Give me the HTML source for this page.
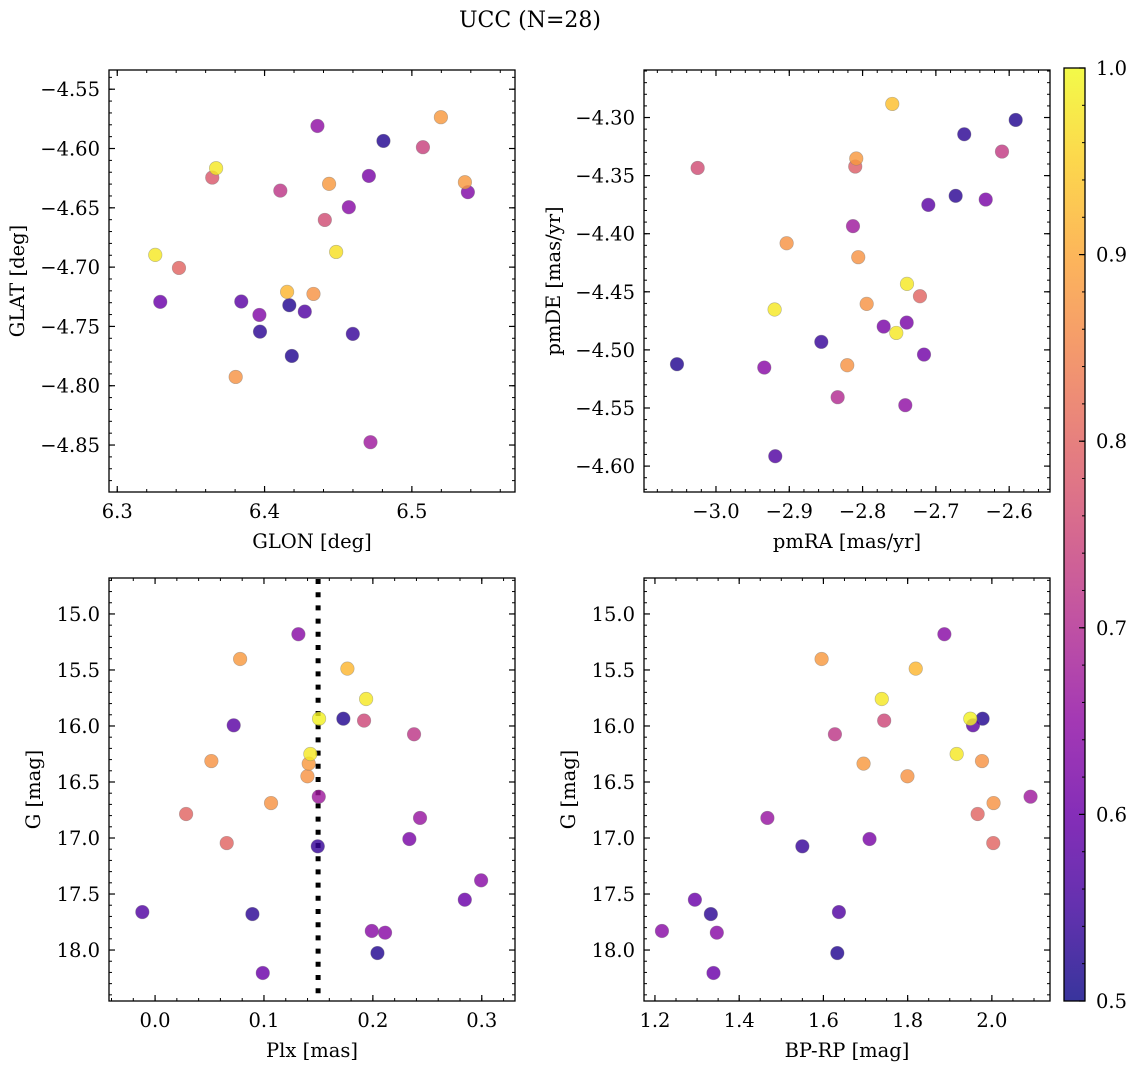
<!DOCTYPE html>
<html><head><meta charset="utf-8">
<style>
html,body{margin:0;padding:0;background:#fff;}
svg{display:block;font-family:"DejaVu Serif","Liberation Serif",serif;}
</style></head>
<body>
<svg id="fig" width="1136" height="1068" viewBox="0 0 1136 1068" xmlns="http://www.w3.org/2000/svg">
<rect width="1136" height="1068" fill="#fff"/>
<text x="530" y="27" font-size="22" text-anchor="middle">UCC (N=28)</text>
</svg>
<script>
// ---- data ----
const prob = [0.64,0.88,0.92,0.98,0.99,0.52,0.75,0.58,0.72,0.98,0.88,0.87,0.87,0.67,0.87,0.80,0.66,0.80,0.62,0.54,0.64,0.60,0.57,0.53,0.64,0.64,0.52,0.60];
const plx = [0.1316,0.0781,0.1766,0.1938,0.1506,0.1729,0.1919,0.0722,0.2378,0.1426,0.1411,0.0517,0.1399,0.1503,0.1065,0.0285,0.2433,0.0658,0.2335,0.1494,0.2994,0.2844,-0.0117,0.0894,0.199,0.2112,0.2042,0.0989];
const gmag = [15.181,15.402,15.488,15.759,15.935,15.935,15.952,15.994,16.074,16.25,16.336,16.313,16.449,16.631,16.688,16.786,16.821,17.045,17.009,17.074,17.378,17.551,17.661,17.679,17.83,17.845,18.027,18.205];
const bprp = [1.8872,1.5957,1.8192,1.7386,1.9488,1.978,1.7443,1.9552,1.6273,1.9164,1.6953,1.9765,1.7995,2.0918,2.004,1.9662,1.467,2.0033,1.7095,1.55,null,1.2948,1.6368,1.3327,1.2166,1.3469,1.633,1.339];

const glon = [6.4359,6.4807,6.5197,6.5075,6.3671,6.3645,6.4107,6.4438,6.4708,6.536,6.538,6.4572,6.4409,6.3258,6.4486,6.3419,6.3292,6.3842,6.3965,6.3969,6.4153,6.4332,6.4168,6.4273,6.4599,6.4185,6.3804,6.4719];
const glat = [-4.581,-4.5936,-4.5736,-4.5989,-4.6166,-4.6245,-4.6355,-4.6298,-4.6231,-4.6284,-4.6368,-4.6495,-4.6602,-4.6897,-4.6872,-4.7007,-4.7293,-4.729,-4.7403,-4.7544,-4.7209,-4.7226,-4.7321,-4.7375,-4.7563,-4.7749,-4.7926,-4.8476];
const glProb = [0.65,0.52,0.88,0.74,0.98,0.78,0.72,0.88,0.62,0.88,0.63,0.64,0.76,0.98,0.97,0.80,0.60,0.58,0.63,0.53,0.92,0.87,0.52,0.57,0.54,0.52,0.87,0.67];

const pmra = [-2.7595,-2.5911,-2.6613,-2.6098,-3.025,-2.8086,-2.81,-2.673,-2.632,-2.7103,-2.8131,-2.9036,-2.8059,-2.7394,-2.7217,-2.92,-2.7944,-2.7712,-2.7398,-2.754,-2.8563,-2.7162,-3.0532,-2.9341,-2.8209,-2.834,-2.7417,-2.9191];
const pmde = [-4.2883,-4.3021,-4.3144,-4.3293,-4.3434,-4.3353,-4.3422,-4.3674,-4.3706,-4.3752,-4.3935,-4.4082,-4.4202,-4.4432,-4.4538,-4.4652,-4.4604,-4.4799,-4.4765,-4.4854,-4.4931,-4.504,-4.5123,-4.5152,-4.5132,-4.5407,-4.5476,-4.5915];
const pmProb = [0.93,0.52,0.53,0.73,0.76,0.88,0.79,0.53,0.62,0.58,0.67,0.87,0.87,0.98,0.80,0.98,0.87,0.62,0.62,0.98,0.54,0.61,0.52,0.64,0.87,0.70,0.65,0.57];

const plxLine = 0.1497;
const glonTicks = [6.3,6.4,6.5], glatTicks = [-4.55,-4.60,-4.65,-4.70,-4.75,-4.80,-4.85];
const pmraTicks = [-3.0,-2.9,-2.8,-2.7,-2.6], pmdeTicks = [-4.30,-4.35,-4.40,-4.45,-4.50,-4.55,-4.60];
const plxTicks = [0.0,0.1,0.2,0.3], gTicks = [15.0,15.5,16.0,16.5,17.0,17.5,18.0];
const bprpTicks = [1.2,1.4,1.6,1.8,2.0], cbTicks = [0.5,0.6,0.7,0.8,0.9,1.0];

// ---- helpers ----
const NS = "http://www.w3.org/2000/svg";
const svg = document.getElementById('fig');
const FS = 19.5;
function mk(tag, attrs, parent){ const e=document.createElementNS(NS,tag); for(const k in attrs) e.setAttribute(k,attrs[k]); (parent||svg).appendChild(e); return e; }
const stops = ["#0d0887","#41049d","#6a00a8","#8f0da4","#b12a90","#cc4778","#e16462","#f2844b","#fca636","#fcce25","#f0f921"];
function hex(h){return [parseInt(h.substr(1,2),16),parseInt(h.substr(3,2),16),parseInt(h.substr(5,2),16)];}
function plasma(t){ t=Math.max(0,Math.min(1,t)); const f=t*10, i=Math.min(9,Math.floor(f)), r=f-i; const a=hex(stops[i]), b=hex(stops[i+1]); return 'rgb('+a.map((v,k)=>Math.round(v+(b[k]-v)*r)).join(',')+')'; }
function cmap(p){ return plasma((p-0.5)/0.5); }
function fmt(v,d){ return (v<0?'\u2212':'')+Math.abs(v).toFixed(d); }

function panel(o){
  const {L,R,T,B,x0,x1,y0,y1} = o;
  const sx = v => L + (v-x0)/(x1-x0)*(R-L);
  const sy = v => T + (v-y0)/(y1-y0)*(B-T);
  const g = mk('g',{});
  
  
  for(let v=Math.ceil(x0/o.xMinor-1e-6)*o.xMinor; v<=x1+1e-9; v+=o.xMinor){
    const x=sx(v); mk('line',{x1:x,x2:x,y1:B,y2:B-3,stroke:'#000','stroke-width':1},g); mk('line',{x1:x,x2:x,y1:T,y2:T+3,stroke:'#000','stroke-width':1},g);
  }
  const ya=Math.min(y0,y1), yb=Math.max(y0,y1);
  for(let v=Math.ceil(ya/o.yMinor-1e-6)*o.yMinor; v<=yb+1e-9; v+=o.yMinor){
    const y=sy(v); mk('line',{x1:L,x2:L+3,y1:y,y2:y,stroke:'#000','stroke-width':1},g); mk('line',{x1:R,x2:R-3,y1:y,y2:y,stroke:'#000','stroke-width':1},g);
  }
  o.xTicks.forEach(v=>{ const x=sx(v);
    mk('line',{x1:x,x2:x,y1:B,y2:B-6,stroke:'#000','stroke-width':1.2},g); mk('line',{x1:x,x2:x,y1:T,y2:T+6,stroke:'#000','stroke-width':1.2},g);
    const t=mk('text',{x:x,y:B+26,'font-size':FS,'text-anchor':'middle'},g); t.textContent=fmt(v,o.xd);
    
    
  });
  o.yTicks.forEach(v=>{ const y=sy(v);
    mk('line',{x1:L,x2:L+6,y1:y,y2:y,stroke:'#000','stroke-width':1.2},g); mk('line',{x1:R,x2:R-6,y1:y,y2:y,stroke:'#000','stroke-width':1.2},g);
    const t=mk('text',{x:L-9,y:y+7,'font-size':FS,'text-anchor':'end'},g); t.textContent=fmt(v,o.yd);
    
    
  });
  if(o.vline!==undefined){ const x=sx(o.vline);
    const l=mk('line',{x1:x,x2:x,y1:T+1,y2:B,stroke:'#000','stroke-width':5,'stroke-dasharray':'5 8.2'},g);
    
    
  }
  const idx = o.xs.map((_,i)=>i).filter(i=>o.xs[i]!==null).sort((a,b)=>o.cs[a]-o.cs[b]);
  idx.forEach(i=>{
    const c=mk('circle',{cx:sx(o.xs[i]),cy:sy(o.ys[i]),r:6.8,fill:cmap(o.cs[i]),'fill-opacity':0.82,stroke:'#777','stroke-opacity':0.5,'stroke-width':0.6},g);
    
    
  });
  mk('rect',{x:L,y:T,width:R-L,height:B-T,fill:'none',stroke:'#000','stroke-width':1.3},g);
  const xl=mk('text',{x:(L+R)/2,y:B+56,'font-size':FS,'text-anchor':'middle'},g); xl.textContent=o.xlabel;
  
  
  const yx=o.ylx, yy=(T+B)/2;
  const yl=mk('text',{x:yx,y:yy,'font-size':FS,'text-anchor':'middle',transform:'rotate(-90 '+yx+' '+yy+')'},g); yl.textContent=o.ylabel;
  
  
}

panel({name:'glon-glat-panel',L:109,R:515,T:70,B:492,x0:6.2944,x1:6.570,y0:-4.5338,y1:-4.8896,xMinor:0.02,yMinor:0.01,
  xTicks:glonTicks,yTicks:glatTicks,xd:1,yd:2,xs:glon,ys:glat,cs:glProb,xlabel:'GLON [deg]',ylabel:'GLAT [deg]',ylx:24});
panel({name:'pm-panel',L:644,R:1050,T:70,B:492,x0:-3.0982,x1:-2.5443,y0:-4.2591,y1:-4.6223,xMinor:0.02,yMinor:0.01,
  xTicks:pmraTicks,yTicks:pmdeTicks,xd:1,yd:2,xs:pmra,ys:pmde,cs:pmProb,xlabel:'pmRA [mas/yr]',ylabel:'pmDE [mas/yr]',ylx:560});
panel({name:'plx-g-panel',L:109,R:515,T:578,B:1001,x0:-0.0423,x1:0.3305,y0:14.679,y1:18.455,xMinor:0.02,yMinor:0.1,
  xTicks:plxTicks,yTicks:gTicks,xd:1,yd:1,xs:plx,ys:gmag,cs:prob,xlabel:'Plx [mas]',ylabel:'G [mag]',ylx:40,vline:plxLine});
panel({name:'cmd-panel',L:644,R:1050,T:578,B:1001,x0:1.174,x1:2.138,y0:14.679,y1:18.455,xMinor:0.05,yMinor:0.1,
  xTicks:bprpTicks,yTicks:gTicks,xd:1,yd:1,xs:bprp,ys:gmag,cs:prob,xlabel:'BP-RP [mag]',ylabel:'G [mag]',ylx:575});

// colorbar
(function(){
  const L=1064,R=1085,T=68,B=1001;
  const g=mk('g',{});
  
  
  const defs=mk('defs',{},g);
  const lg=mk('linearGradient',{id:'cbg',x1:0,y1:1,x2:0,y2:0},defs);
  for(let i=0;i<=20;i++){ mk('stop',{offset:i/20,'stop-color':plasma(i/20),'stop-opacity':0.82},lg); }
  mk('rect',{x:L,y:T,width:R-L,height:B-T,fill:'url(#cbg)'},g);
  const sy=v=>B-(v-0.5)/0.5*(B-T);
  for(let v=0.5;v<=1.0001;v+=0.02){ mk('line',{x1:R,x2:R-3,y1:sy(v),y2:sy(v),stroke:'#000','stroke-width':1},g); }
  cbTicks.forEach(v=>{ const y=sy(v);
    mk('line',{x1:R,x2:R-6,y1:y,y2:y,stroke:'#000','stroke-width':1.2},g);
    const t=mk('text',{x:R+11,y:y+7,'font-size':FS},g); t.textContent=v.toFixed(1);
    
    
  });
  mk('rect',{x:L,y:T,width:R-L,height:B-T,fill:'none',stroke:'#000','stroke-width':1.3},g);
})();
</script>
</body></html>
